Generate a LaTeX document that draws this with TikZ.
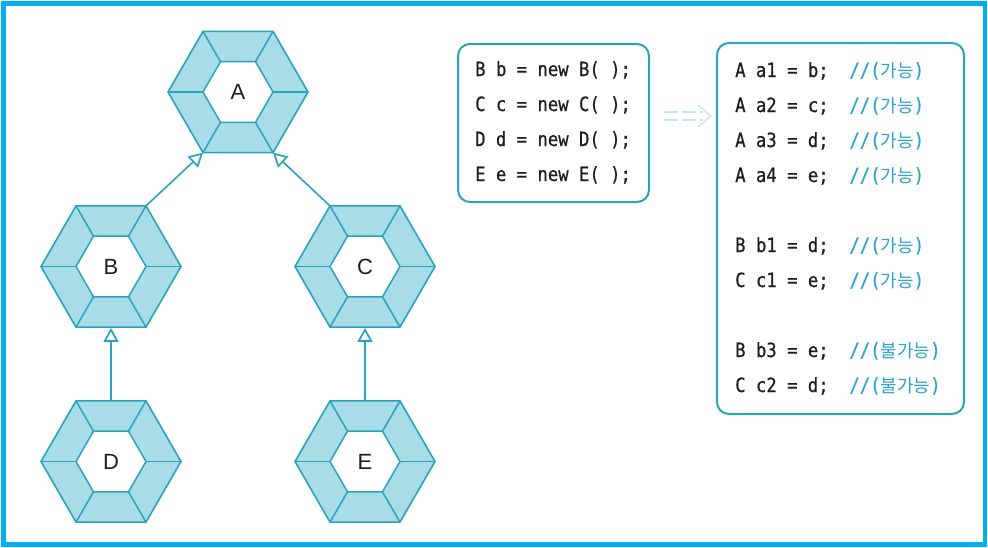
\documentclass[tikz,border=0pt]{standalone}
\usepackage{fontspec}
\setmainfont{Liberation Sans}
\setmonofont[FakeStretch=0.88,FakeBold=0.6]{DejaVu Sans Mono}
\newfontfamily\krfont{Noto Sans CJK KR}
\usetikzlibrary{shapes.geometric,arrows.meta,calc}
\definecolor{frameblue}{HTML}{00B0F0}
\definecolor{hexfill}{HTML}{A8DCE6}
\definecolor{hexline}{HTML}{2AA3BD}
\definecolor{cmt}{HTML}{2BA3CF}
\definecolor{codetxt}{HTML}{1E1E1E}
\definecolor{ghost}{HTML}{C4E7F1}
\tikzset{
  hexnode/.style={regular polygon, regular polygon sides=6, minimum size=140pt,
    inner sep=0pt, draw=hexline, fill=hexfill, line width=1.6pt,
    font=\fontsize{22}{26}\selectfont, text=codetxt,
    path picture={
      \coordinate (pc) at (path picture bounding box.center);
      \foreach \a in {0,60,...,300}{\draw[hexline,line width=1.5pt] ($(pc)+(\a:35)$) -- ($(pc)+(\a:80)$);}
      \draw[hexline,line width=1.5pt,fill=white] ($(pc)+(0:35)$) -- ++(120:35) -- ++(180:35) -- ++(240:35) -- ++(300:35) -- ++(0:35) -- cycle;
    }},
  inherit/.style={hexline, line width=1.6pt, -{Triangle[open,length=14pt,width=15pt,line width=1.7pt]}},
  codebox/.style={draw=hexline, line width=2pt, rounded corners=12pt, inner sep=0pt},
  codeline/.style={anchor=base west, inner sep=0pt, text=codetxt, font=\ttfamily\fontsize{19.6}{22}\selectfont},
  ghostline/.style={ghost, line width=1.3pt},
}
\newcommand{\cm}[1]{{\color{cmt}//({\krfont\fontsize{18}{20}\selectfont #1})}}
\begin{document}
\begin{tikzpicture}[x=1pt,y=-1pt]
\useasboundingbox (0,0) rectangle (988,547);
\draw[frameblue, line width=4.6pt] (3.3,3.7) rectangle (984.8,544.2);

% hexagons
\node[hexnode] (A) at (238,92) {A};
\node[hexnode] (B) at (111,266.5) {B};
\node[hexnode] (C) at (365,266.5) {C};
\node[hexnode] (D) at (111,461.5) {D};
\node[hexnode] (E) at (365,461.5) {E};

\coordinate (A-bl) at ($(A)+(-35,60.6)$);
\coordinate (A-br) at ($(A)+(35,60.6)$);
\coordinate (B-tr) at ($(B)+(35,-60.6)$);
\coordinate (C-tl) at ($(C)+(-35,-60.6)$);

\draw[inherit] (B-tr) -- (A-bl);
\draw[inherit] (C-tl) -- (A-br);
\draw[inherit] (D.north) -- (B.south);
\draw[inherit] (E.north) -- (C.south);

% code boxes
\node[codebox, minimum width=191pt, minimum height=158pt] (box1) at (553.5,123) {};
\node[codebox, minimum width=247pt, minimum height=371pt] (box2) at (840.5,228.5) {};

\node[codeline] (l1) at (475,76) {B b = new B( );};
\node[codeline] (l2) at (475,111) {C c = new C( );};
\node[codeline] (l3) at (475,146) {D d = new D( );};
\node[codeline] (l4) at (475,181) {E e = new E( );};

\node[codeline] (r1) at (735,77) {A a1 = b;~~\cm{가능}};
\node[codeline] (r2) at (735,112) {A a2 = c;~~\cm{가능}};
\node[codeline] (r3) at (735,147) {A a3 = d;~~\cm{가능}};
\node[codeline] (r4) at (735,182) {A a4 = e;~~\cm{가능}};
\node[codeline] (r5) at (735,252) {B b1 = d;~~\cm{가능}};
\node[codeline] (r6) at (735,287) {C c1 = e;~~\cm{가능}};
\node[codeline] (r7) at (735,357) {B b3 = e;~~\cm{불가능}};
\node[codeline] (r8) at (735,392) {C c2 = d;~~\cm{불가능}};

% ghost arrow
\coordinate (ds) at ($(box1.east)+(14,-7)$);
\coordinate (de) at ($(box2.west |- ds)+(-5,0)$);
\draw[ghostline, dash pattern=on 14pt off 4pt] ($(ds)+(0,-4)$) -- ($(de)+(-8,-4)$);
\draw[ghostline, dash pattern=on 14pt off 4pt] ($(ds)+(0,4)$) -- ($(de)+(-8,4)$);
\draw[ghostline, line join=miter] ($(de)+(-13,-11)$) -- (de) -- ($(de)+(-13,11)$);
\end{tikzpicture}
\end{document}
